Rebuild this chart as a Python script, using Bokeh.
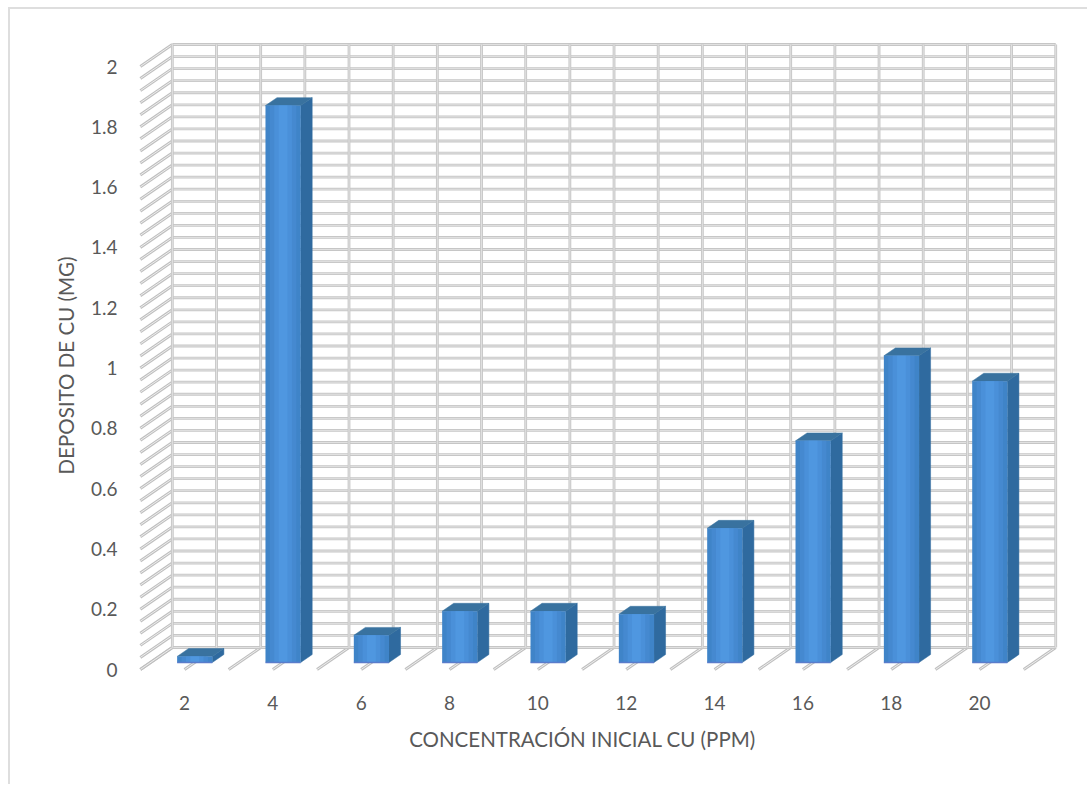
from bokeh.embed import file_html
from bokeh.models import FixedTicker, Range1d
from bokeh.plotting import figure
from bokeh.resources import INLINE

# Copper deposit against initial concentration
concentracion = [2, 4, 6, 8, 10, 12, 14, 16, 18, 20]
deposito = [0.02, 1.847, 0.09, 0.17, 0.17, 0.16, 0.445, 0.735, 1.017, 0.933]
ticks_deposito = [0, 0.2, 0.4, 0.6, 0.8, 1, 1.2, 1.4, 1.6, 1.8, 2]
titulo_x = "CONCENTRACIÓN INICIAL CU (PPM)"
titulo_y = "DEPOSITO DE CU (MG)"

# The figure sits inside a thin frame drawn on its host element
MARGIN_L, MARGIN_T = 10, 9
W, H = 1089 - MARGIN_L, 786 - MARGIN_T
LEFT, RIGHT, TOP, BOTTOM = 99, 1065, 30, 700
PX_X = 44.17   # pixels per ppm
PX_Y = 301.5   # pixels per mg
X0_PX, Y0_PX = 184.0, 669.0

# Oblique projection: depth 0 is the front of the floor, depth 1 the back wall.
DX = 32 / PX_X
DY = 22 / PX_Y
BAR_HALF = 17.6 / PX_X
D_FRONT, D_BACK = 0.32, 0.68

x_range = Range1d(2 + (LEFT - X0_PX) / PX_X, 2 + (RIGHT - X0_PX) / PX_X)
y_range = Range1d((Y0_PX - BOTTOM) / PX_Y, (Y0_PX - TOP) / PX_Y)

p = figure(width=W, height=H, x_range=x_range, y_range=y_range,
           output_backend="svg", toolbar_location=None,
           min_border_left=LEFT - MARGIN_L, min_border_right=1089 - RIGHT,
           min_border_top=TOP - MARGIN_T, min_border_bottom=786 - BOTTOM,
           background_fill_color="white", border_fill_color="white",
           margin=(MARGIN_T, 0, 0, MARGIN_L),
           styles={"box-shadow": "-2px -2px 0 #dedede"})
p.outline_line_color = None
p.grid.visible = False


def px(c, d=0.0):
    return c + DX * d


def py(v, d=0.0):
    return v + DY * d


x_first, x_last = concentracion[0] - 1, concentracion[-1] + 1
wall_steps = [i * 0.04 for i in range(51)]
half_steps = [x_first + i for i in range(x_last - x_first + 1)]

wall_x = [[px(x_first, 1), px(x_last, 1)] for v in wall_steps]
wall_y = [[py(v, 1), py(v, 1)] for v in wall_steps]
post_x = [[px(c, 1), px(c, 1)] for c in half_steps]
post_y = [[py(0, 1), py(2, 1)] for c in half_steps]
side_x = [[px(x_first, 0), px(x_first, 1)] for v in wall_steps]
side_y = [[py(v, 0), py(v, 1)] for v in wall_steps]
floor_x = [[px(c, 0), px(c, 1)] for c in half_steps]
floor_y = [[py(0, 0), py(0, 1)] for c in half_steps]

# Each grid line is a grey stroke with a pale core
for xs, ys in ((side_x, side_y), (floor_x, floor_y)):
    p.multi_line(xs, ys, line_color="#bfbfbf", line_width=3)
    p.multi_line(xs, ys, line_color="#eeeeee", line_width=1)
for xs, ys in ((wall_x, wall_y), (post_x, post_y)):
    p.multi_line(xs, ys, line_color="#c6c6c6", line_width=2.8)
    p.multi_line(xs, ys, line_color="#e4e4e4", line_width=0.9)

# Bars
x_l = [c - BAR_HALF for c in concentracion]
x_r = [c + BAR_HALF for c in concentracion]
p.patches(
    [[px(r, D_FRONT), px(r, D_BACK), px(r, D_BACK), px(r, D_FRONT)] for r in x_r],
    [[py(0, D_FRONT), py(0, D_BACK), py(v, D_BACK), py(v, D_FRONT)]
     for v in deposito],
    fill_color="#2f6a9f", line_color="#2f6a9f", line_width=0.5)
p.patches(
    [[px(l, D_FRONT), px(r, D_FRONT), px(r, D_BACK), px(l, D_BACK)]
     for l, r in zip(x_l, x_r)],
    [[py(v, D_FRONT), py(v, D_FRONT), py(v, D_BACK), py(v, D_BACK)]
     for v in deposito],
    fill_color="#39729f", line_color="#39729f", line_width=0.5)

# Front faces: nested quads, lighter towards the middle
shades = ["#3f84c8", "#4589d0", "#4a90d9", "#4f97e0"]
for k, shade in enumerate(shades):
    inset = BAR_HALF * k / len(shades)
    p.quad(left=[px(c - BAR_HALF + inset, D_FRONT) for c in concentracion],
           right=[px(c + BAR_HALF - inset, D_FRONT) for c in concentracion],
           bottom=[py(0, D_FRONT)] * len(concentracion),
           top=[py(v, D_FRONT) for v in deposito],
           fill_color=shade, line_color=None)
p.segment(x0=[px(l, D_FRONT) for l in x_l], x1=[px(r, D_FRONT) for r in x_r],
          y0=[py(0, D_FRONT)] * len(x_l), y1=[py(0, D_FRONT)] * len(x_l),
          line_color="#5a7ccb", line_width=1.5)

# Axes
FONT = "Lato"
TEXT = "#595959"
for axis in (p.xaxis[0], p.yaxis[0]):
    axis.axis_line_color = None
    axis.major_tick_line_color = None
    axis.minor_tick_line_color = None
    axis.major_label_text_font = FONT
    axis.major_label_text_font_size = "19px"
    axis.major_label_text_color = TEXT
    axis.axis_label_text_font = FONT
    axis.axis_label_text_font_size = "20.5px"
    axis.axis_label_text_font_style = "normal"
    axis.axis_label_text_color = TEXT

p.xaxis[0].ticker = FixedTicker(ticks=concentracion)
p.xaxis[0].axis_label = titulo_x
p.xaxis[0].major_label_standoff = -11
p.xaxis[0].axis_label_standoff = 14

p.yaxis[0].ticker = FixedTicker(ticks=ticks_deposito)
p.yaxis[0].axis_label = titulo_y
p.yaxis[0].major_label_standoff = -24
p.yaxis[0].major_label_text_align = "center"
p.yaxis[0].axis_label_standoff = 10

open("out.html", "w").write(file_html(p, INLINE))
